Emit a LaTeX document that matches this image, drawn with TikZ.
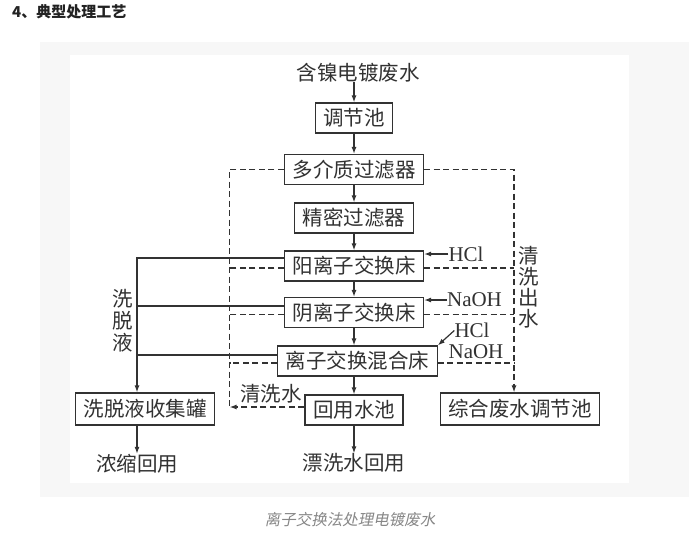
\documentclass[tikz,border=0pt]{standalone}
\usepackage{fontspec}
\setmainfont{Liberation Serif}
\newfontfamily\cjk{Noto Sans CJK SC}
\newfontfamily\cjkslant[FakeSlant=0.2]{Noto Sans CJK SC}
\usetikzlibrary{arrows.meta,positioning,calc}
\definecolor{ink}{RGB}{50,50,50}
\definecolor{panel}{RGB}{247,247,247}
\definecolor{capgray}{RGB}{135,135,135}

\begin{document}
\begin{tikzpicture}[x=1pt,y=-1pt,
  box/.style={draw=ink,line width=1.2pt,text=ink,inner xsep=8pt,inner ysep=0pt,
    minimum height=30pt,font=\cjk\fontsize{20.5}{22}\selectfont},
  lbl/.style={text=ink,inner sep=0pt,font=\cjk\fontsize{20.5}{22}\selectfont},
  chem/.style={text=ink,inner sep=0pt,font=\fontsize{21}{23}\selectfont},
  flow/.style={draw=ink,line width=1.2pt,-{Latex[length=7pt,width=5pt]}},
  link/.style={draw=ink,line width=1.2pt},
  wash/.style={draw=ink,line width=1.2pt,dash pattern=on 6pt off 3.5pt}]
  \useasboundingbox (0,0) rectangle (695,547);
  \fill[white] (0,0) rectangle (695,547);
  \fill[panel] (40,42) rectangle (689,497);
  \fill[white] (70,55) rectangle (629,483);
  \node[anchor=west,inner sep=0pt,text={rgb,255:red,34;green,34;blue,34},
    font=\cjk\bfseries\fontsize{15}{17}\selectfont] (title) at (12,12) {4、典型处理工艺};

  \node[lbl] (src) at (358,72.5) {含镍电镀废水};
  \node[box] (tiao) at (354,118) {调节池};
  \node[box] (duo) at (354,169.5) {多介质过滤器};
  \node[box] (jing) at (354,218) {精密过滤器};
  \node[box] (yang) at (354,266) {阳离子交换床};
  \node[box] (yin) at (354,312.5) {阴离子交换床};
  \node[box] (hun) at (357.5,361) {离子交换混合床};
  \node[box,minimum height=32pt] (xitank) at (145,409) {洗脱液收集罐};
  \node[box] (huiyong) at (354,410) {回用水池};
  \node[box,minimum height=32pt] (zonghe) at (520,409) {综合废水调节池};
  \node[lbl] (nong) at (137,463.5) {浓缩回用};
  \node[lbl] (piao) at (354,463) {漂洗水回用};

  \node[chem] (hclA) at (466,254) {HCl};
  \node[chem] (naohA) at (474.5,300) {NaOH};
  \node[chem] (hclB) at (472,330.5) {HCl};
  \node[chem] (naohB) at (476,352) {NaOH};
  \node[lbl] (qxw) at (271,394) {清洗水};
  \node[lbl,align=center,font=\cjk\fontsize{20.5}{21}\selectfont] (qxcs) at (529,287) {清\\洗\\出\\水};
  \node[lbl,align=center] (xtl) at (123,321) {洗\\脱\\液};

  \coordinate (eL) at (137,0);
  \coordinate (dL) at (229.6,0);
  \coordinate (dR) at (514,0);

  \draw[flow] (tiao.north |- src.south) -- (tiao.north);
  \draw[flow] (tiao) -- (duo);
  \draw[flow] (duo) -- (jing);
  \draw[flow] (jing) -- (yang);
  \draw[flow] (yang) -- (yin);
  \draw[flow] (yin.south) -- (yin.south |- hun.north);
  \draw[flow] (huiyong.north |- hun.south) -- (huiyong.north);
  \draw[flow] (nong.north |- xitank.south) -- (nong.north);
  \draw[flow] (huiyong.south) -- (piao.north);

  \draw[flow] (hclA.west) -- (hclA.west -| yang.east);
  \draw[flow] (naohA.west) -- (naohA.west -| yin.east);
  \draw[flow] (hclB.west) -- (hun.north east);

  \draw[flow] ([yshift=8pt]yang.west) -| (eL |- xitank.north);
  \foreach \b/\s in {yin/6.5,hun/6}
    \draw[link] ([yshift=\s pt]\b.west) -- ([yshift=\s pt]\b.west -| eL);

  \draw[wash] (duo.west) -| ([yshift=3pt]huiyong.west -| dL);
  \draw[wash,-{Latex[length=7pt,width=5pt]}] ([yshift=3pt]huiyong.west) -- ([yshift=3pt]huiyong.west -| dL);
  \draw[wash,-{Latex[length=7pt,width=5pt]}] (duo.east) -| (dR |- zonghe.north);
  \foreach \b in {yang,yin,hun}{
    \draw[wash] ([yshift=-2pt]\b.west) -- ([yshift=-2pt]\b.west -| dL);
    \draw[wash] ([yshift=-2pt]\b.east) -- ([yshift=-2pt]\b.east -| dR);
  }

  \node[inner sep=0pt,text=capgray,font=\cjkslant\fontsize{15.5}{17}\selectfont] (caption) at (350,520) {离子交换法处理电镀废水};
\end{tikzpicture}
\end{document}
